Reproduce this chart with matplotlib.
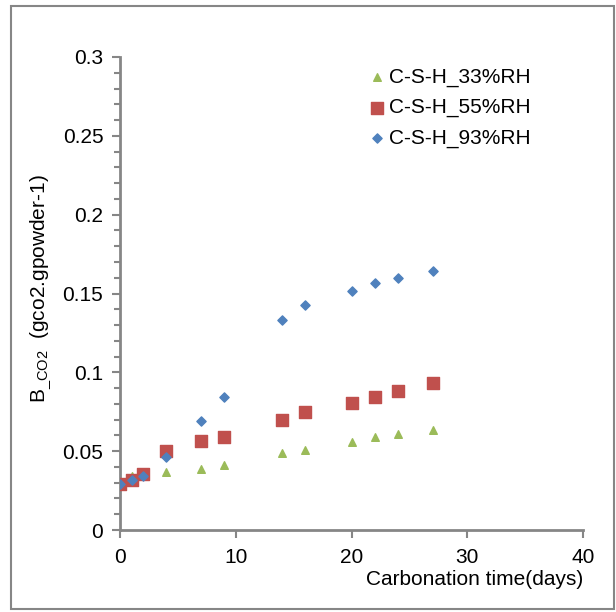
import matplotlib.pyplot as plt
from matplotlib.patches import Rectangle
from matplotlib.ticker import MultipleLocator

plt.rcParams['font.family'] = ['Liberation Sans', 'DejaVu Sans']
plt.rcParams['mathtext.fontset'] = 'custom'
plt.rcParams['mathtext.rm'] = 'Liberation Sans'
plt.rcParams['mathtext.it'] = 'Liberation Sans'

days = [0, 1, 2, 4, 7, 9, 14, 16, 20, 22, 24, 27]
rh33 = [0.030, 0.034, 0.035, 0.037, 0.0386, 0.041, 0.049, 0.0507, 0.056, 0.0587, 0.0612, 0.0636]
rh55 = [0.029, 0.032, 0.0354, 0.0498, 0.0564, 0.0589, 0.070, 0.0746, 0.0807, 0.0846, 0.0879, 0.0934]
rh93 = [0.029, 0.032, 0.0343, 0.0466, 0.0693, 0.0844, 0.1333, 0.1426, 0.1515, 0.1568, 0.1598, 0.164]

gray = '#868686'
fs = 15

fig = plt.figure(figsize=(6.16, 6.12), dpi=100)
ax = fig.add_axes([120/616, 1 - 530/612, 463/616, 473/612])

ax.scatter(days, rh33, marker='^', s=30, color='#9bbb59', label='C-S-H_33%RH', zorder=3)
ax.scatter(days, rh55, marker='s', s=70, color='#c0504d', label='C-S-H_55%RH', zorder=3)
ax.scatter(days, rh93, marker='D', s=22, color='#4f81bd', label='C-S-H_93%RH', zorder=4)

ax.set_xlim(0, 40)
ax.set_ylim(0, 0.3)
ax.set_xticks([0, 10, 20, 30, 40])
ax.set_yticks([0, 0.05, 0.1, 0.15, 0.2, 0.25, 0.3])
ax.set_yticklabels(['0', '0.05', '0.1', '0.15', '0.2', '0.25', '0.3'])
ax.yaxis.set_minor_locator(MultipleLocator(0.01))

for s in ['top', 'right']:
    ax.spines[s].set_visible(False)
for s in ['left', 'bottom']:
    ax.spines[s].set_color(gray)
    ax.spines[s].set_linewidth(2)
ax.tick_params(axis='both', which='major', direction='out', length=6, width=1.5,
               color=gray, labelsize=fs, pad=6)
ax.tick_params(axis='y', which='minor', direction='out', length=4, width=1.5, color=gray)
ax.tick_params(axis='x', pad=7)

ax.set_xlabel('Carbonation time(days)', fontsize=fs)
ax.xaxis.set_label_coords(0.767, -0.085)
ax.set_ylabel(r'B$_{\_\mathrm{CO2}}$  (gco2.gpowder-1)', fontsize=fs)
ax.yaxis.set_label_coords(-0.145, 0.51)

ax.legend(loc='upper left', bbox_to_anchor=(0.51, 1.0), frameon=False, fontsize=fs,
          handletextpad=0.1, labelspacing=0.55, borderaxespad=0.1, scatterpoints=1,
          handlelength=1.0)

fig.patches.append(Rectangle((11/616, 1 - 609/612), 603/616, 603/612,
                             transform=fig.transFigure, fill=False,
                             edgecolor=gray, linewidth=1.5))

fig.savefig('out.png', dpi=100)
